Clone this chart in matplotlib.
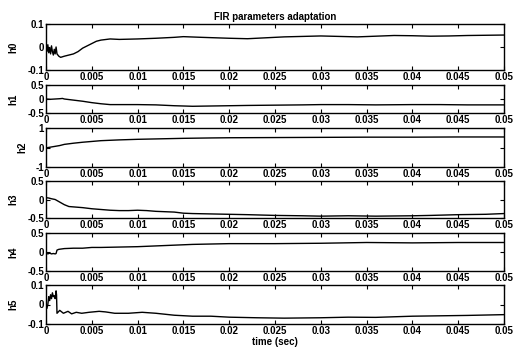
import numpy as np
import matplotlib
matplotlib.use("Agg")
import matplotlib.pyplot as plt

plt.rcParams['font.family'] = ['Liberation Sans', 'DejaVu Sans']
plt.rcParams['axes.unicode_minus'] = False

# h0
t0 = [0, 0.0001, 0.0002, 0.0003, 0.0004, 0.0005, 0.0006, 0.0007, 0.0008, 0.0009, 0.001, 0.0011,
      0.0012, 0.0014, 0.0016, 0.002, 0.0025, 0.003, 0.0035, 0.004, 0.0045, 0.005, 0.0055, 0.006,
      0.007, 0.008, 0.01, 0.012, 0.014, 0.015, 0.017, 0.02, 0.022, 0.024, 0.026, 0.028, 0.03,
      0.032, 0.034, 0.036, 0.038, 0.04, 0.042, 0.044, 0.046, 0.048, 0.05]
h0 = [0.0, -0.02, 0.01, -0.025, -0.005, -0.03, 0.005, -0.02, -0.035, -0.01, -0.03, 0.0,
      -0.03, -0.04, -0.045, -0.04, -0.035, -0.03, -0.02, -0.005, 0.005, 0.015, 0.025, 0.03,
      0.035, 0.033, 0.035, 0.038, 0.042, 0.045, 0.042, 0.038, 0.036, 0.04, 0.044, 0.046, 0.048,
      0.046, 0.044, 0.047, 0.05, 0.049, 0.047, 0.048, 0.05, 0.051, 0.052]

# h1
t1 = [0, 0.0005, 0.001, 0.0015, 0.0018, 0.002, 0.003, 0.004, 0.005, 0.006, 0.007, 0.008, 0.01,
      0.012, 0.014, 0.016, 0.018, 0.02, 0.022, 0.025, 0.028, 0.03, 0.033, 0.036, 0.04, 0.043,
      0.046, 0.05]
h1 = [0.0, -0.01, 0.0, 0.01, 0.02, 0.0, -0.04, -0.08, -0.13, -0.17, -0.2, -0.2, -0.2,
      -0.21, -0.24, -0.26, -0.25, -0.24, -0.23, -0.22, -0.21, -0.2, -0.2, -0.21, -0.2, -0.2,
      -0.21, -0.21]

# h2
t2 = [0, 0.0005, 0.001, 0.0015, 0.002, 0.003, 0.004, 0.005, 0.006, 0.008, 0.01, 0.012, 0.015,
      0.018, 0.02, 0.025, 0.03, 0.035, 0.04, 0.045, 0.05]
h2 = [-0.02, 0.02, 0.06, 0.1, 0.16, 0.22, 0.27, 0.31, 0.35, 0.39, 0.42, 0.44, 0.47,
      0.49, 0.5, 0.51, 0.52, 0.53, 0.53, 0.54, 0.54]

# h3
t3 = [0, 0.0003, 0.0006, 0.001, 0.0015, 0.002, 0.0025, 0.003, 0.004, 0.005, 0.006, 0.007,
      0.008, 0.009, 0.01, 0.011, 0.012, 0.014, 0.015, 0.016, 0.018, 0.02, 0.022, 0.025, 0.028,
      0.03, 0.033, 0.036, 0.04, 0.042, 0.045, 0.048, 0.05]
h3 = [0.05, 0.04, 0.02, 0.0, -0.07, -0.14, -0.19, -0.2, -0.22, -0.25, -0.27, -0.29,
      -0.3, -0.3, -0.29, -0.3, -0.32, -0.34, -0.37, -0.38, -0.39, -0.4, -0.41, -0.43, -0.44,
      -0.45, -0.44, -0.45, -0.44, -0.43, -0.41, -0.4, -0.38]

# h4
t4 = [0, 0.0002, 0.0004, 0.0006, 0.0008, 0.001, 0.0011, 0.0012, 0.0014, 0.002, 0.003, 0.004,
      0.005, 0.006, 0.008, 0.01, 0.012, 0.014, 0.016, 0.018, 0.02, 0.025, 0.03, 0.035, 0.04,
      0.045, 0.05]
h4 = [-0.03, -0.05, -0.03, -0.05, -0.04, -0.05, -0.04, 0.05, 0.07, 0.09, 0.1, 0.1,
      0.12, 0.12, 0.13, 0.14, 0.16, 0.18, 0.2, 0.21, 0.22, 0.22, 0.23, 0.25, 0.24,
      0.25, 0.25]

# h5
t5 = [0, 0.0001, 0.0002, 0.0003, 0.0004, 0.0005, 0.0006, 0.0007, 0.0008, 0.0009, 0.001, 0.0011,
      0.00115, 0.0012, 0.0015, 0.0019, 0.0024, 0.0028, 0.0033, 0.0039, 0.0047, 0.0058, 0.0065,
      0.0075, 0.009, 0.0105, 0.012, 0.014, 0.016, 0.018, 0.02, 0.023, 0.026, 0.03, 0.033, 0.036,
      0.04, 0.043, 0.046, 0.05]
h5 = [-0.01, -0.02, 0.0, 0.04, 0.02, 0.05, 0.03, 0.06, 0.04, 0.045, 0.03, 0.07,
      0.05, -0.045, -0.03, -0.045, -0.035, -0.048, -0.04, -0.045, -0.04, -0.035, -0.038,
      -0.045, -0.045, -0.04, -0.045, -0.055, -0.06, -0.06, -0.065, -0.068, -0.07, -0.068, -0.065,
      -0.066, -0.06, -0.058, -0.056, -0.052]

names = ["h0", "h1", "h2", "h3", "h4", "h5"]
times = [t0, t1, t2, t3, t4, t5]
series = [h0, h1, h2, h3, h4, h5]
limits = [0.1, 0.5, 1, 0.5, 0.5, 0.1]
xticks = [0, 0.005, 0.01, 0.015, 0.02, 0.025, 0.03, 0.035, 0.04, 0.045, 0.05]
xticklabels = ["0", "0.005", "0.01", "0.015", "0.02", "0.025", "0.03", "0.035", "0.04", "0.045", "0.05"]

W, H = 515, 347
fig = plt.figure(figsize=(W / 100, H / 100), dpi=100)
# panel top/bottom in pixels
rows = [(24, 70), (85, 113), (128, 167), (181, 218), (233, 271), (285, 324)]
left, right = 46, 504
fs = 7

for i in range(6):
    top, bot = rows[i]
    ax = fig.add_axes([left / W, 1 - bot / H, (right - left) / W, (bot - top) / H])
    ax.plot(times[i], series[i], color="black", lw=1.0)
    ax.set_xlim(0, 0.05)
    lim = limits[i]
    ax.set_ylim(-lim, lim)
    ax.set_xticks(xticks)
    ax.set_xticklabels(xticklabels)
    ax.set_yticks([-lim, 0, lim])
    ax.set_yticklabels([f"{-lim:g}", "0", f"{lim:g}"])
    ax.tick_params(direction="in", length=3, width=0.8, top=True, right=True,
                   labelsize=fs, pad=1.5)
    for lbl in ax.get_xticklabels() + ax.get_yticklabels():
        lbl.set_fontweight("bold")
    for s in ax.spines.values():
        s.set_linewidth(1.0)
    ax.set_ylabel(names[i], fontsize=fs, fontweight="bold", labelpad=6)
    if i == 0:
        ax.set_title("FIR parameters adaptation", fontsize=fs, fontweight="bold", pad=3)
    if i == 5:
        ax.set_xlabel("time (sec)", fontsize=fs, fontweight="bold", labelpad=1)

fig.savefig("out.png", dpi=100)
